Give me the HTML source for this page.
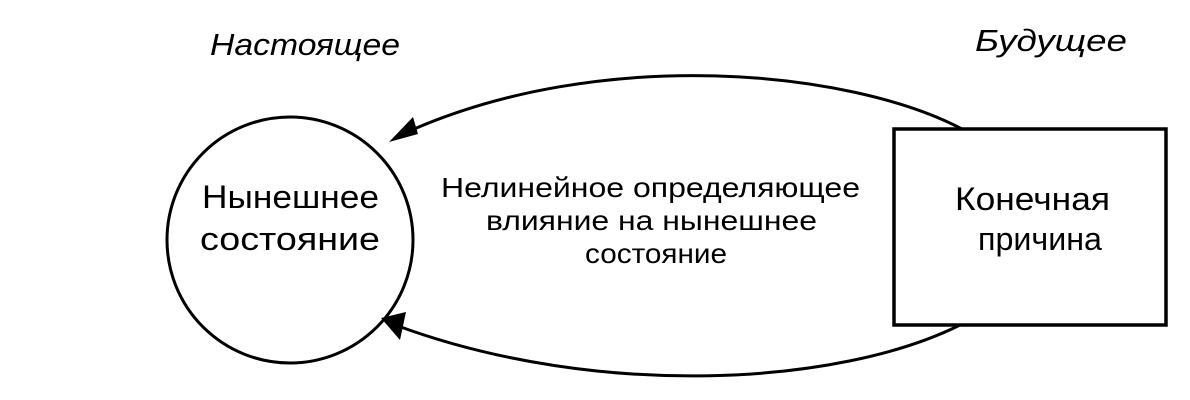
<!DOCTYPE html>
<html><head><meta charset="utf-8"><style>
html,body{margin:0;padding:0;background:#fff;}
svg{display:block;}
text{font-family:"Liberation Sans",sans-serif;fill:#000;}
</style></head><body>
<svg width="1190" height="400" viewBox="0 0 1190 400">
<text x="210" y="55" font-size="31" font-style="italic" textLength="190" lengthAdjust="spacingAndGlyphs">Настоящее</text>
<text x="975" y="51" font-size="31" font-style="italic" textLength="152" lengthAdjust="spacingAndGlyphs">Будущее</text>
<circle cx="290" cy="240" r="123" fill="none" stroke="#000" stroke-width="3"/>
<text x="202" y="208" font-size="32" textLength="177" lengthAdjust="spacingAndGlyphs">Нынешнее</text>
<text x="200" y="250" font-size="32" textLength="180" lengthAdjust="spacingAndGlyphs">состояние</text>
<rect x="894" y="129" width="272" height="196" fill="none" stroke="#000" stroke-width="3.5"/>
<text x="955" y="210" font-size="32" textLength="155" lengthAdjust="spacingAndGlyphs">Конечная</text>
<text x="978" y="250" font-size="32" textLength="124" lengthAdjust="spacingAndGlyphs">причина</text>
<text x="441" y="197" font-size="28" textLength="419" lengthAdjust="spacingAndGlyphs">Нелинейное определяющее</text>
<text x="486" y="230" font-size="28" textLength="331" lengthAdjust="spacingAndGlyphs">влияние на нынешнее</text>
<text x="585" y="263" font-size="28" textLength="142" lengthAdjust="spacingAndGlyphs">состояние</text>
<path d="M962 129 C 850 70, 600 45, 405 133" fill="none" stroke="#000" stroke-width="3"/>
<polygon points="389,142 413,117 418,134" fill="#000"/>
<path d="M960 325 C 840 385, 600 400, 398 326" fill="none" stroke="#000" stroke-width="3"/>
<polygon points="381,318 406,312 400,340" fill="#000"/>
</svg>
</body></html>
